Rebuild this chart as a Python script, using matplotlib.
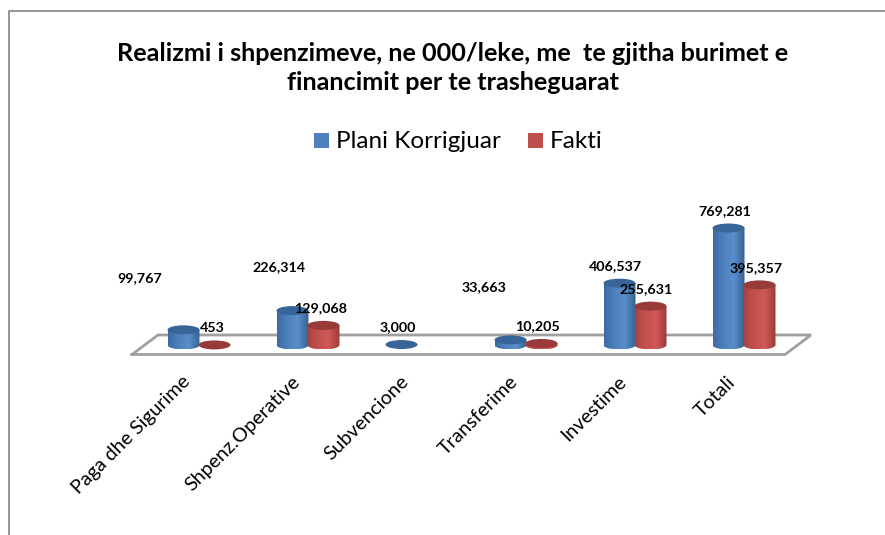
import numpy as np
import matplotlib
matplotlib.use("Agg")
import matplotlib.pyplot as plt
from matplotlib.patches import Ellipse, PathPatch, Rectangle
from matplotlib.path import Path

plt.rcParams['font.family'] = ['Lato', 'DejaVu Sans']

# te dhenat
kategorite = ["Paga dhe Sigurime", "Shpenz.Operative", "Subvencione", "Transferime", "Investime", "Totali"]
plani = [99767, 226314, 3000, 33663, 406537, 769281]
fakti = [453, 129068, 0, 10205, 255631, 395357]
etiketa_plani = ["99,767", "226,314", "3,000", "33,663", "406,537", "769,281"]
etiketa_fakti = ["453", "129,068", "", "10,205", "255,631", "395,357"]
titulli = "Realizmi i shpenzimeve, ne 000/leke, me  te gjitha burimet e\nfinancimit per te trasheguarat"

W, H = 885, 535
fig = plt.figure(figsize=(W / 100, H / 100), dpi=100)

# sfondi ne piksele
bg = fig.add_axes([0, 0, 1, 1])
bg.set_xlim(0, W)
bg.set_ylim(H, 0)
bg.axis("off")
bg.plot([9, 9, W], [H, 11, 11], color="#8c8c8c", lw=1.3)
bg.plot([132, 158, 811, 785, 132], [354.5, 335, 335, 354.5, 354.5], color="#a0a0a0", lw=2, solid_joinstyle="miter")

# boshti kryesor: x = kategori, y = vlere
ax = fig.add_axes([0, 0, 1, 1])
ax.patch.set_alpha(0)
ax.axis("off")
px_kat = 109.0
px_vlere = 117 / 769281
x0, y0 = 199, 345
ax.set_autoscale_on(False)
ax.set_xlim(-x0 / px_kat, (W - x0) / px_kat)
ax.set_ylim(-(H - y0) / px_vlere, y0 / px_vlere)

gjeresia = 32 / px_kat
ry = 4.5 / px_vlere


def cilinder(x, v, ngjyrat, sip):
    if v > 3000:
        g = np.linspace(0, 1, 64)
        stops = [0, 0.25, 0.65, 1]
        rgb = [np.interp(g, stops, [matplotlib.colors.to_rgb(c)[k] for c in ngjyrat]) for k in range(3)]
        img = np.dstack(rgb).reshape(1, 64, 3)
        im = ax.imshow(img, extent=(x - gjeresia / 2, x + gjeresia / 2, -ry, v), aspect="auto", zorder=3, interpolation="bilinear")
        t = np.linspace(np.pi, 2 * np.pi, 40)
        vx = np.r_[x - gjeresia / 2, x + gjeresia / 2 * np.cos(t), x + gjeresia / 2, x - gjeresia / 2]
        vy = np.r_[v, ry * np.sin(t), v, v]
        clip = PathPatch(Path(np.c_[vx, vy]), transform=ax.transData, fc="none", ec="none")
        ax.add_patch(clip)
        im.set_clip_path(clip)
    ax.add_patch(Ellipse((x, v), gjeresia, 2 * ry, fc=sip, ec="none", zorder=3.1))


blu = ["#3d6ca3", "#4a7cb8", "#5a8ecb", "#34618f"]
kuq = ["#a84240", "#bf4f4c", "#cf5a57", "#9c3a38"]
dx = 15.5 / px_kat

for i in range(len(kategorite)):
    cilinder(i - dx, plani[i], blu, "#376597")
    if i != 2:
        cilinder(i + dx, fakti[i], kuq, "#973a38")

# etiketat e vlerave, zhvendosje ne piksele nga maja e cilindrit
zh_plani = [(-44, 52), (-14, 44), (-4, 17), (-27, 53), (-4, 17), (-4, 17)]
zh_fakti = [(-2, 17), (-3, 17), (0, 0), (-4, 17), (-4, 17), (-3, 17)]


def etikete(x, v, tekst, zh):
    ax.annotate(tekst, (x, v), xytext=(zh[0] * 0.72, zh[1] * 0.72), textcoords="offset points",
                ha="center", va="center", fontsize=10.3, fontweight="bold", color="black", zorder=5)


for i in range(len(kategorite)):
    etikete(i - dx, plani[i], etiketa_plani[i], zh_plani[i])
    if etiketa_fakti[i]:
        etikete(i + dx, fakti[i], etiketa_fakti[i], zh_fakti[i])
    ax.annotate(kategorite[i], (i, 0), xytext=(-8, -24.5), textcoords="offset points", rotation=45,
                rotation_mode="anchor", ha="right", va="center", fontsize=14.1, color="black")

# titulli dhe legjenda
bg.text(453, 68, titulli, ha="center", va="center", fontsize=18.2, fontweight="bold", linespacing=1.35)
bg.add_patch(Rectangle((314, 133), 15, 15, fc="#4f81bd", ec="none"))
bg.add_patch(Rectangle((528, 133), 15, 15, fc="#c0504d", ec="none"))
bg.text(336, 142, "Plani Korrigjuar", ha="left", va="center", fontsize=17.5)
bg.text(550, 142, "Fakti", ha="left", va="center", fontsize=17.5)

fig.savefig("out.png", dpi=100)
